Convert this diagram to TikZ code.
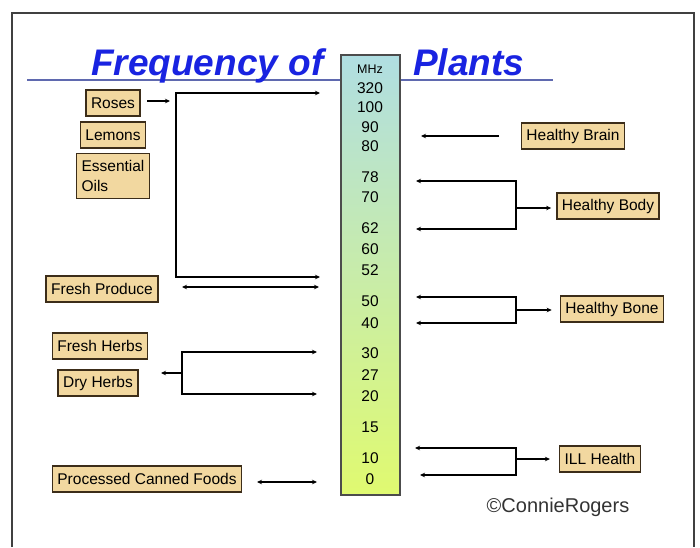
\documentclass[tikz,border=0pt]{standalone}
\usepackage{fontspec}
\setmainfont{Liberation Sans}
\usepackage{tikz}
\usetikzlibrary{arrows.meta}
\usetikzlibrary{positioning}
\definecolor{sable}{RGB}{242,216,160}
\definecolor{brunbord}{RGB}{60,45,25}
\definecolor{bleutitre}{RGB}{25,35,225}
\definecolor{traittitre}{RGB}{95,105,175}
\definecolor{haut}{RGB}{176,222,226}
\definecolor{milieu}{RGB}{188,236,168}
\definecolor{bas}{RGB}{224,250,112}
\tikzstyle{etiquette}=[
        rectangle,
        draw=brunbord,
        line width=1.5pt,
        fill=sable,
        inner xsep=5pt,
        minimum height=26pt,
        font=\fontsize{15.5}{19}\selectfont
]
\tikzstyle{echelle}=[
        rectangle,
        draw=black!70,
        line width=1.5pt,
        top color=haut,
        middle color=milieu,
        bottom color=bas,
        minimum width=59pt,
        minimum height=440pt
]
\tikzstyle{valeur}=[font=\fontsize{15.5}{15.5}\selectfont,inner sep=0pt]
\tikzstyle{titre}=[font=\fontsize{37}{37}\selectfont\bfseries\itshape,text=bleutitre,inner sep=0pt,anchor=base west]
\tikzstyle{suite}=[->,>={Stealth[length=5pt,width=4.5pt]},line width=1.2pt]
\tikzstyle{aller}=[<->,>={Stealth[length=5pt,width=4.5pt]},line width=1.2pt]

\begin{document}
\begin{tikzpicture}[x=1pt,y=-1pt]
\useasboundingbox (0,0) rectangle (700,547);
\draw[line width=1.3pt,black!75] (12,547) -- (12,13) -- (694,13) -- (694,547);
\draw[traittitre,line width=1.5pt] (27,80) -- (553,80);
\node[titre] (titre1) at (91,75) {Frequency of};
\node[titre] (titre2) at (413,75) {Plants};
\node[echelle] (echelle) at (370.5,275) {};
\node[font=\fontsize{12.5}{12.5}\selectfont,inner sep=0pt] (mhz) at (370,69) {MHz};
\foreach \v/\y in {320/88,100/107,90/127,80/146,78/177,70/197,62/228,60/249,52/270,
        50/301,40/323,30/353,27/375,20/396,15/427,10/458,0/479}
        \node[valeur] (f\v) at (370,\y) {\v};
\node[etiquette] (roses) at (113,103) {Roses};
\node[etiquette] (citrons) at (113,135) {Lemons};
\node[etiquette,align=left,minimum height=45pt,font=\fontsize{15.5}{20}\selectfont] (huiles) at (113,176) {Essential\\Oils};
\node[etiquette] (produits) at (102,289) {Fresh Produce};
\node[etiquette] (herbes) at (100,346) {Fresh Herbs};
\node[etiquette] (seches) at (98,383) {Dry Herbs};
\node[etiquette] (conserves) at (147,479) {Processed Canned Foods};
\node[etiquette] (cerveau) at (573,136) {Healthy Brain};
\node[etiquette] (corps) at (608,206) {Healthy Body};
\node[etiquette] (os) at (612,309) {Healthy Bone};
\node[etiquette] (malade) at (600,459) {ILL Health};
\node[font=\fontsize{20}{20}\selectfont,text=black!80] (auteur) at (558,507) {©ConnieRogers};
%Points des fleches
\coordinate (r1) at (147,101);
\coordinate (r2) at (170,101);
\coordinate (a1) at (320,93);
\coordinate (a2) at (176,93);
\coordinate (a3) at (176,277);
\coordinate (a4) at (320,277);
\coordinate (b1) at (182,287);
\coordinate (b2) at (319,287);
\coordinate (c1) at (317,352);
\coordinate (c2) at (182,352);
\coordinate (c3) at (182,394);
\coordinate (c4) at (317,394);
\coordinate (c5) at (182,373);
\coordinate (c6) at (161,373);
\coordinate (d1) at (257,482);
\coordinate (d2) at (317,482);
\coordinate (e1) at (499,136);
\coordinate (e2) at (421,136);
\coordinate (g1) at (416,181);
\coordinate (g2) at (516,181);
\coordinate (g3) at (516,229);
\coordinate (g4) at (416,229);
\coordinate (g5) at (516,208);
\coordinate (h1) at (416,297);
\coordinate (h2) at (516,297);
\coordinate (h3) at (516,323);
\coordinate (h4) at (416,323);
\coordinate (h5) at (516,310);
\coordinate (k1) at (415,448);
\coordinate (k2) at (516,448);
\coordinate (k3) at (516,475);
\coordinate (k4) at (420,475);
\coordinate (k5) at (516,459);
%Placement des fleches
\draw[suite] (r1) -- (r2);
\draw[aller] (a1) -- (a2) -- (a3) -- (a4);
\draw[aller] (b1) -- (b2);
\draw[aller] (c1) -- (c2) -- (c3) -- (c4);
\draw[suite] (c5) -- (c6);
\draw[aller] (d1) -- (d2);
\draw[suite] (e1) -- (e2);
\draw[aller] (g1) -- (g2) -- (g3) -- (g4);
\draw[suite,shorten >=5pt] (g5) -- (g5 -| corps.west);
\draw[aller] (h1) -- (h2) -- (h3) -- (h4);
\draw[suite,shorten >=8pt] (h5) -- (h5 -| os.west);
\draw[aller] (k1) -- (k2) -- (k3) -- (k4);
\draw[suite,shorten >=9pt] (k5) -- (k5 -| malade.west);
\end{tikzpicture}
\end{document}
